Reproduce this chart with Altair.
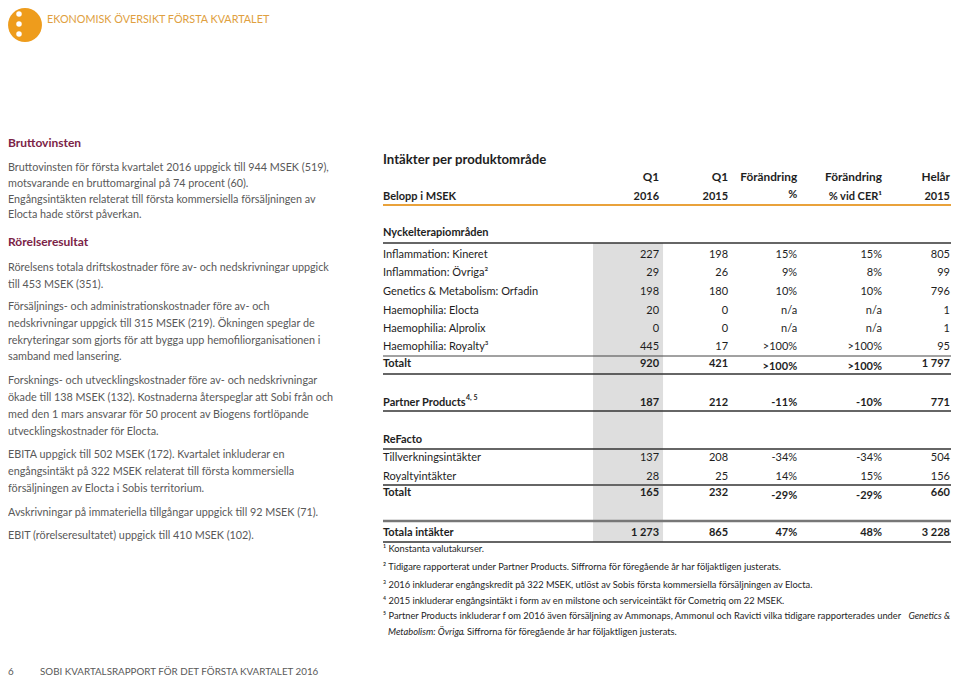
import altair as alt
import pandas as pd

FONT = "Lato"

# ---------------- data ----------------
header_title = "EKONOMISK ÖVERSIKT FÖRSTA KVARTALET"
footer_page = "6"
footer_text = "SOBI KVARTALSRAPPORT FÖR DET FÖRSTA KVARTALET 2016"

left_headings = ["Bruttovinsten", "Rörelseresultat"]
left_par_1 = ["Bruttovinsten för första kvartalet 2016 uppgick till 944 MSEK (519),",
              "motsvarande en bruttomarginal på 74 procent (60).",
              "Engångsintäkten relaterat till första kommersiella försäljningen av",
              "Elocta hade störst påverkan."]
left_par_2 = ["Rörelsens totala driftskostnader före av- och nedskrivningar uppgick",
              "till 453 MSEK (351)."]
left_par_3 = ["Försäljnings- och administrationskostnader före av- och",
              "nedskrivningar uppgick till 315 MSEK (219). Ökningen speglar de",
              "rekryteringar som gjorts för att bygga upp hemofiliorganisationen i",
              "samband med lansering."]
left_par_4 = ["Forsknings- och utvecklingskostnader före av- och nedskrivningar",
              "ökade till 138 MSEK (132). Kostnaderna återspeglar att Sobi från och",
              "med den 1 mars ansvarar för 50 procent av Biogens fortlöpande",
              "utvecklingskostnader för Elocta."]
left_par_5 = ["EBITA uppgick till 502 MSEK (172). Kvartalet inkluderar en",
              "engångsintäkt på 322 MSEK relaterat till första kommersiella",
              "försäljningen av Elocta i Sobis territorium."]
left_par_6 = ["Avskrivningar på immateriella tillgångar uppgick till 92 MSEK (71)."]
left_par_7 = ["EBIT (rörelseresultatet) uppgick till 410 MSEK (102)."]

table_title = "Intäkter per produktområde"
col_head_1 = ["Q1", "Q1", "Förändring", "Förändring", "Helår"]
col_head_2 = ["2016", "2015", "%", "% vid CER¹", "2015"]
row_head_label = "Belopp i MSEK"
section_labels = ["Nyckelterapiområden", "ReFacto"]

row_labels = ["Inflammation: Kineret", "Inflammation: Övriga²", "Genetics & Metabolism: Orfadin",
              "Haemophilia: Elocta", "Haemophilia: Alprolix", "Haemophilia: Royalty³", "Totalt",
              "Partner Products", "Tillverkningsintäkter", "Royaltyintäkter", "Totalt",
              "Totala intäkter"]
row_bold = [False, False, False, False, False, False, True, True, False, False, True, True]
q1_2016 = [227, 29, 198, 20, 0, 445, 920, 187, 137, 28, 165, 1273]
q1_2015 = [198, 26, 180, 0, 0, 17, 421, 212, 208, 25, 232, 865]
change_pct = ["15%", "9%", "10%", "n/a", "n/a", ">100%", ">100%", "-11%", "-34%", "14%", "-29%", "47%"]
change_cer = ["15%", "8%", "10%", "n/a", "n/a", ">100%", ">100%", "-10%", "-34%", "15%", "-29%", "48%"]
full_2015 = [805, 99, 796, 1, 1, 95, 1797, 771, 504, 156, 660, 3228]
partner_sup = "4, 5"

footnotes = ["¹ Konstanta valutakurser.",
             "² Tidigare rapporterat under Partner Products. Siffrorna för föregående år har följaktligen justerats.",
             "³ 2016 inkluderar engångskredit på 322 MSEK, utlöst av Sobis första kommersiella försäljningen av Elocta.",
             "⁴ 2015 inkluderar engångsintäkt i form av en milstone och serviceintäkt för Cometriq om 22 MSEK.",
             "⁵ Partner Products inkluderar f om 2016 även försäljning av Ammonaps, Ammonul och Ravicti vilka tidigare rapporterades under"]
footnote_5_italic = "Genetics &"
footnote_5b_italic = "Metabolism: Övriga"
footnote_5b_rest = ". Siffrorna för föregående år har följaktligen justerats."

# ---------------- layout (page pixel positions) ----------------
W, H = 944, 671
xs = alt.Scale(domain=[8, 8 + W], range=[0, W], nice=False, zero=False)
ys = alt.Scale(domain=[8, 8 + H], range=[0, H], nice=False, zero=False)
X = alt.X("x:Q", scale=xs, axis=None)
Y = alt.Y("y:Q", scale=ys, axis=None)

GREY = "#595959"
DARK = "#1e1e1e"
MAROON = "#7b2346"
ORANGE = "#e9a23b"


def text_layer(rows, align="left", size=11, weight="normal", color=DARK, style="normal", dy=0):
    df = pd.DataFrame(rows, columns=["x", "y", "t"])
    return alt.Chart(df).mark_text(
        align=align, baseline="middle", fontSize=size, fontWeight=weight,
        color=color, font=FONT, fontStyle=style, dy=dy
    ).encode(x=X, y=Y, text="t:N")


layers = []

# header icon
icon = pd.DataFrame({"x": [25], "y": [25]})
layers.append(alt.Chart(icon).mark_circle(size=1150, opacity=1, color="#ee9c1c").encode(x=X, y=Y))
dots = pd.DataFrame({"x": [19, 19, 19], "y": [14, 24, 34]})
layers.append(alt.Chart(dots).mark_circle(size=30, opacity=1, color="white").encode(x=X, y=Y))
layers.append(text_layer([(47, 20, header_title)], size=10.8, color="#e0a040"))

# left column
LX = 8
layers.append(text_layer([(LX, 143, left_headings[0]), (LX, 242, left_headings[1])],
                         size=12, weight="bold", color=MAROON))
left_rows = []
for par, ys_ in [(left_par_1, [168, 184, 200, 215]),
                 (left_par_2, [268, 285]),
                 (left_par_3, [307, 324, 341, 357]),
                 (left_par_4, [381, 398, 415, 432]),
                 (left_par_5, [455, 472, 489]),
                 (left_par_6, [513]),
                 (left_par_7, [536])]:
    for t, yy in zip(par, ys_):
        left_rows.append((LX, yy, t))
layers.append(text_layer(left_rows, size=10.8, color=GREY))

# footer
layers.append(text_layer([(LX, 672, footer_page), (40, 672, footer_text)], size=9.8, color=GREY))

# table: horizontal positions squeezed slightly so the right edge fits the page
TX = 383
RIGHT = 950


def tx(x):
    return TX + (x - TX) * (RIGHT - TX) / (958 - TX)


col_right = [tx(v) for v in [663, 733, 803, 889, 958]]

# grey band behind Q1 2016 column
band = pd.DataFrame({"x": [tx(596)], "x2": [tx(667)], "y": [243], "y2": [542]})
layers.append(alt.Chart(band).mark_rect(color="#dedede").encode(x=X, x2="x2:Q", y=Y, y2="y2:Q"))

layers.append(text_layer([(TX, 160, table_title)], size=13.2, weight="bold", color=DARK))
layers.append(text_layer([(c, 177, t) for c, t in zip(col_right, col_head_1)],
                         align="right", size=11.8, weight="bold", color=DARK))
head2 = [(c, 197 if t != "%" else 195, t) for c, t in zip(col_right, col_head_2)]
layers.append(text_layer(head2, align="right", size=11, weight="bold", color=DARK))
layers.append(text_layer([(TX, 197, row_head_label)], size=11, weight="bold", color=DARK))
layers.append(text_layer([(TX, 233, section_labels[0]), (TX, 440, section_labels[1])],
                         size=11, weight="bold", color=DARK))

row_y = [255, 273, 292, 311, 329, 347, 364, 403, 458, 477, 493, 533]
pct_shift = [0, 0, 0, 0, 0, 0, 3, 0, 0, 0, 3, 0]


def fmt(v):
    return f"{v:,}".replace(",", " ")


for bold in (False, True):
    lab, cells = [], []
    for i, lbl in enumerate(row_labels):
        if row_bold[i] != bold:
            continue
        y = row_y[i]
        lab.append((TX, y, lbl))
        cells.append((col_right[0], y, fmt(q1_2016[i])))
        cells.append((col_right[1], y, fmt(q1_2015[i])))
        cells.append((col_right[2], y + pct_shift[i], change_pct[i]))
        cells.append((col_right[3], y + pct_shift[i], change_cer[i]))
        cells.append((col_right[4], y, fmt(full_2015[i])))
    w = "bold" if bold else "normal"
    layers.append(text_layer(lab, size=11, weight=w, color=DARK))
    layers.append(text_layer(cells, align="right", size=11, weight=w, color=DARK))

layers.append(text_layer([(466, 398, partner_sup)], size=7, weight="bold", color=DARK))

# table rules
rules = pd.DataFrame({
    "x": [TX] * 9,
    "x2": [RIGHT + 1] * 9,
    "y": [205, 243, 356, 374, 411, 449, 485, 521, 542],
    "w": [2, 1.5, 1, 1.5, 1.5, 1.5, 2, 2.5, 1.5],
    "c": [ORANGE, "#333333", "#444444", "#333333", "#333333", "#333333", "#666666", "#777777", "#333333"],
})
layers.append(alt.Chart(rules).mark_rule().encode(
    x=X, x2="x2:Q", y=Y,
    color=alt.Color("c:N", scale=None),
    strokeWidth=alt.StrokeWidth("w:Q", scale=None)))

# footnotes
FS = 9.3
fn_y = [549, 567, 585, 601, 616]
layers.append(text_layer([(TX, y, t) for t, y in zip(footnotes, fn_y)], size=FS, color=DARK))
layers.append(text_layer([(RIGHT, 616, footnote_5_italic)], align="right", size=FS, color=DARK, style="italic"))
layers.append(text_layer([(388, 632, footnote_5b_italic)], size=FS, color=DARK, style="italic"))
layers.append(text_layer([(462.5, 632, footnote_5b_rest)], size=FS, color=DARK))

chart = alt.layer(*layers).properties(
    width=W, height=H, autosize=alt.AutoSizeParams(type="none"), padding=0,
    background="white"
).configure_view(stroke=None)

chart.save("out.html", embed_options={"renderer": "svg", "actions": False})
